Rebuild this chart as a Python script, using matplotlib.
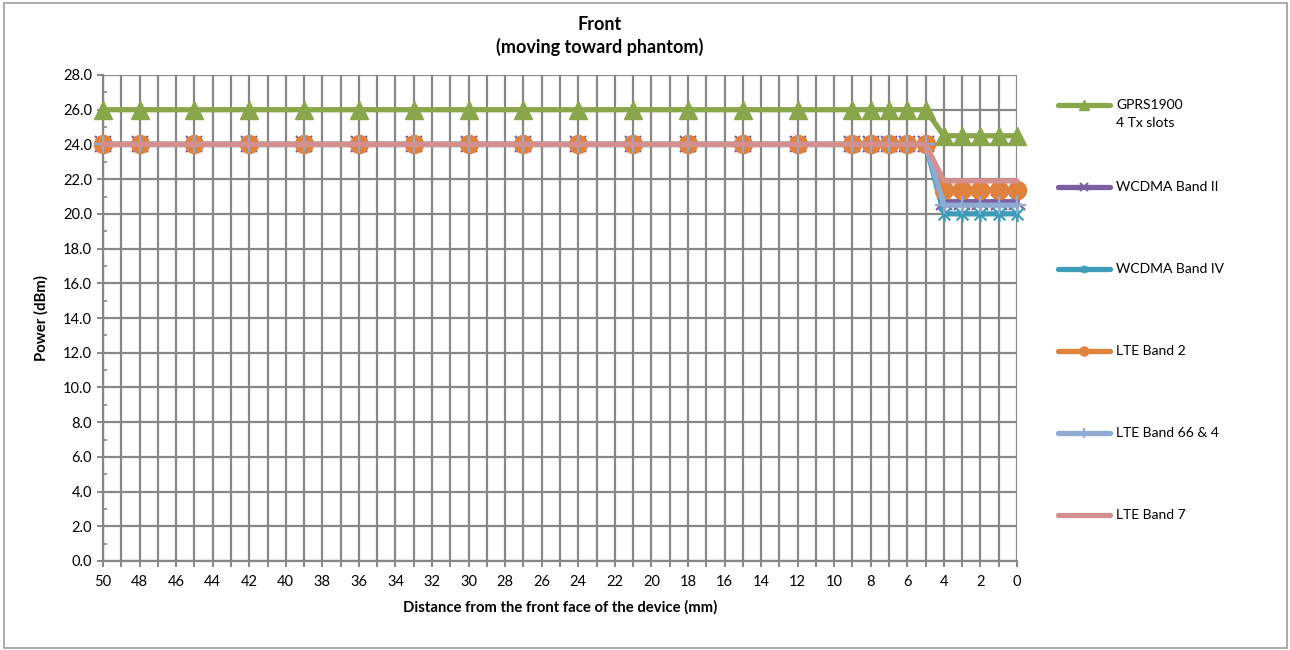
import matplotlib
matplotlib.use("Agg")
import matplotlib.pyplot as plt
from matplotlib.lines import Line2D
from matplotlib.path import Path
from matplotlib.patches import Rectangle
from matplotlib.ticker import MultipleLocator

plt.rcParams['font.family'] = ['Lato', 'DejaVu Sans']

# ---- data ----
distance = [50, 48, 45, 42, 39, 36, 33, 30, 27, 24, 21, 18, 15, 12, 9, 8, 7, 6, 5, 4, 3, 2, 1, 0]
gprs1900 = [26.0, 26.0, 26.0, 26.0, 26.0, 26.0, 26.0, 26.0, 26.0, 26.0, 26.0, 26.0, 26.0, 26.0, 26.0, 26.0, 26.0, 26.0, 26.0, 24.5, 24.5, 24.5, 24.5, 24.5]
wcdma_b2 = [24.0, 24.0, 24.0, 24.0, 24.0, 24.0, 24.0, 24.0, 24.0, 24.0, 24.0, 24.0, 24.0, 24.0, 24.0, 24.0, 24.0, 24.0, 24.0, 20.7, 20.7, 20.7, 20.7, 20.7]
wcdma_b4 = [24.0, 24.0, 24.0, 24.0, 24.0, 24.0, 24.0, 24.0, 24.0, 24.0, 24.0, 24.0, 24.0, 24.0, 24.0, 24.0, 24.0, 24.0, 24.0, 20.0, 20.0, 20.0, 20.0, 20.0]
lte_b2 = [24.0, 24.0, 24.0, 24.0, 24.0, 24.0, 24.0, 24.0, 24.0, 24.0, 24.0, 24.0, 24.0, 24.0, 24.0, 24.0, 24.0, 24.0, 24.0, 21.4, 21.4, 21.4, 21.4, 21.4]
lte_b66_4 = [24.0, 24.0, 24.0, 24.0, 24.0, 24.0, 24.0, 24.0, 24.0, 24.0, 24.0, 24.0, 24.0, 24.0, 24.0, 24.0, 24.0, 24.0, 24.0, 20.5, 20.5, 20.5, 20.5, 20.5]
lte_b7 = [24.0, 24.0, 24.0, 24.0, 24.0, 24.0, 24.0, 24.0, 24.0, 24.0, 24.0, 24.0, 24.0, 24.0, 24.0, 24.0, 24.0, 24.0, 24.0, 21.9, 21.9, 21.9, 21.9, 21.9]
series_labels = ["GPRS1900\n4 Tx slots", "WCDMA Band II", "WCDMA Band IV", "LTE Band 2", "LTE Band 66 & 4", "LTE Band 7"]
y_ticks = [0, 2, 4, 6, 8, 10, 12, 14, 16, 18, 20, 22, 24, 26, 28]
x_ticks = [50, 48, 46, 44, 42, 40, 38, 36, 34, 32, 30, 28, 26, 24, 22, 20, 18, 16, 14, 12, 10, 8, 6, 4, 2, 0]

# star marker (x with vertical bar), like Excel's "star"
star = Path([(-1, -1), (1, 1), (-1, 1), (1, -1), (0, -1.3), (0, 1.3)],
            [Path.MOVETO, Path.LINETO, Path.MOVETO, Path.LINETO, Path.MOVETO, Path.LINETO])

styles = [
    dict(color='#8aa64a', marker='^', ms=13, mew=1),
    dict(color='#7c5fa0', marker='x', ms=11, mew=1.6),
    dict(color='#3f9cb8', marker=star, ms=11, mew=1.6),
    dict(color='#e0823d', marker='o', ms=13, mew=1),
    dict(color='#8fabd3', marker='+', ms=13, mew=1.6),
    dict(color='#d48f8f', marker='None', ms=0, mew=0),
]
ys = [gprs1900, wcdma_b2, wcdma_b4, lte_b2, lte_b66_4, lte_b7]

fig = plt.figure(figsize=(12.9, 6.5), dpi=100)
fig.patches.append(Rectangle((4/1290, 2/650), 1283/1290, 645/650, transform=fig.transFigure,
                             fill=False, edgecolor='#a6a6a6', lw=1.3))
ax = fig.add_axes([103/1290, 1-561/650, (1017-103)/1290, (561-75)/650])

for y, st in zip(ys, styles):
    ax.plot(distance, y, color=st['color'], lw=3.8, marker=st['marker'], ms=st['ms'],
            mew=st['mew'], mfc=st['color'], mec=st['color'], zorder=3,
            solid_capstyle='round', clip_on=False)

ax.set_xlim(50, 0)
ax.set_ylim(0, 28)
ax.yaxis.set_minor_locator(MultipleLocator(1))
ax.xaxis.set_minor_locator(MultipleLocator(1))
ax.set_yticks(y_ticks)
ax.set_yticklabels([f"{v:.1f}" for v in y_ticks])
ax.set_xticks(x_ticks)
ax.set_xticklabels([str(v) for v in x_ticks])

ax.grid(True, which='both', axis='x', color='#878787', lw=1.6, zorder=0)
ax.grid(True, which='major', axis='y', color='#878787', lw=1.6, zorder=0)
for s in ['top', 'right']:
    ax.spines[s].set_visible(False)
for s in ['left', 'bottom']:
    ax.spines[s].set_color('#878787')
    ax.spines[s].set_linewidth(1.6)
ax.tick_params(axis='x', which='both', direction='out', length=4, width=1.4, color='#878787',
               labelsize=10.5, pad=6)
ax.tick_params(axis='y', which='major', direction='out', length=4, width=1.4, color='#878787',
               labelsize=10.5, pad=4)
ax.tick_params(axis='y', which='minor', direction='in', length=3, width=1.2, color='#878787')
ax.tick_params(axis='x', which='minor', labelbottom=False)
ax.set_axisbelow(True)

fig.text(600/1290, 1-25/650, "Front", ha='center', va='center', fontsize=13, fontweight='bold')
fig.text(600/1290, 1-47/650, "(moving toward phantom)", ha='center', va='center', fontsize=13, fontweight='bold')
fig.text(41/1290, 1-318/650, "Power (dBm)", rotation=90, ha='center', va='center', fontsize=10.7, fontweight='bold')
fig.text(560/1290, 1-607/650, "Distance from the front face of the device (mm)", ha='center', va='center',
         fontsize=10.7, fontweight='bold')

# legend (custom, Excel-like)
leg_y = [105, 187, 269, 351, 433, 515]
for yy, st, lab in zip(leg_y, styles, series_labels):
    yf = 1 - yy/650
    fig.add_artist(Line2D([1058/1290, 1110/1290], [yf, yf], transform=fig.transFigure,
                          color=st['color'], lw=3.8, solid_capstyle='round'))
    if st['ms'] > 0:
        fig.add_artist(Line2D([1084/1290], [yf], transform=fig.transFigure, color=st['color'],
                              marker=st['marker'], ms=st['ms']*0.5, mew=st['mew'],
                              mfc=st['color'], mec=st['color'], lw=0))
    lines = lab.split('\n')
    for i, ln in enumerate(lines):
        fig.text(1116/1290, yf - i*18/650, ln, ha='left', va='center', fontsize=10)

fig.savefig("out.png", dpi=100)
